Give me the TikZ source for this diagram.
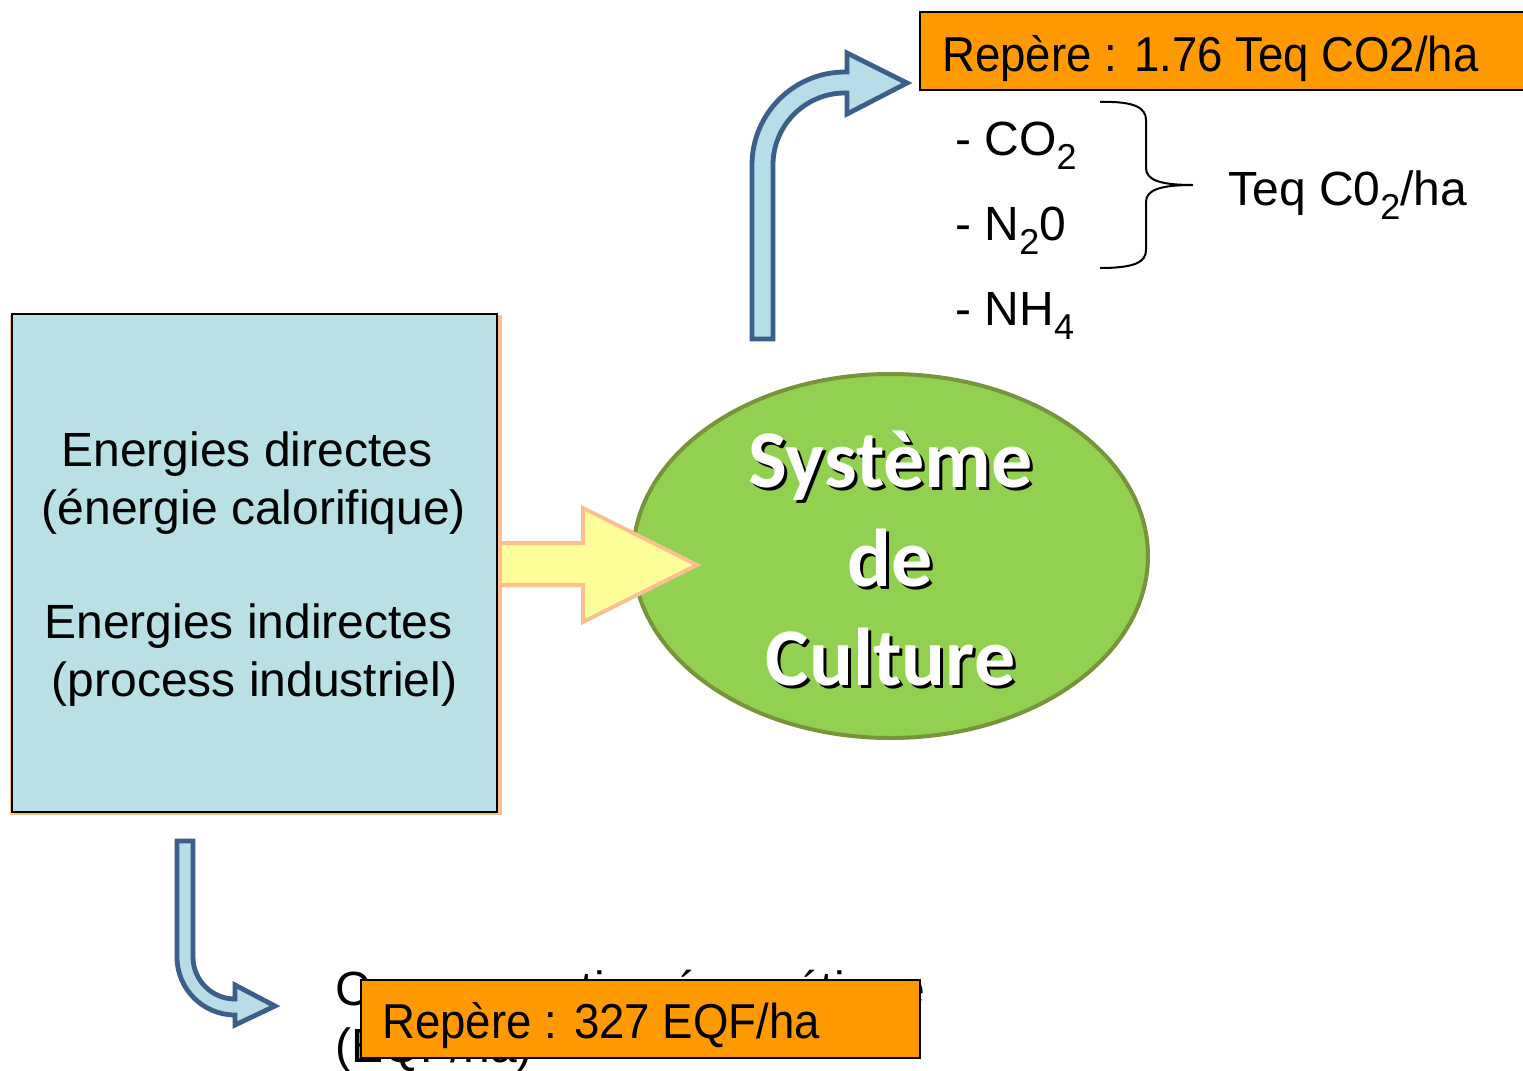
\documentclass[tikz,border=0pt]{standalone}
\usepackage{fontspec}
\setmainfont{Liberation Sans}
\newfontfamily\calib{Carlito}
\usetikzlibrary{shapes.geometric}
\definecolor{boxblue}{HTML}{B9E0E4}
\definecolor{shadoworange}{HTML}{FAC090}
\definecolor{arrowyellow}{HTML}{FFFF99}
\definecolor{sysgreen}{HTML}{92D050}
\definecolor{sysborder}{HTML}{77933C}
\definecolor{arrowblue}{HTML}{3B5F8A}
\definecolor{arrowfill}{HTML}{B7DEE8}
\definecolor{repcolor}{HTML}{FF9900}
\newcommand\subsc[1]{\raisebox{-0.3em}{\fontsize{18}{18}\selectfont #1}}
\tikzset{
  txt/.style={inner sep=0pt, anchor=base, font=\fontsize{24}{28}\selectfont},
  gas/.style={inner sep=0pt, anchor=base west, font=\fontsize{24}{28}\selectfont},
  reptxt/.style={inner sep=0pt, anchor=base west, font=\fontsize{24.5}{28}\selectfont},
  sysfont/.style={inner sep=0pt, anchor=base, font=\calib\bfseries\fontsize{41}{49}\selectfont},
  bentarrow/.style={draw=arrowblue, fill=arrowfill, line width=2.4pt, line join=miter},
  repbox/.style={draw=black, fill=repcolor, line width=0.75pt, inner sep=0pt},
}
\begin{document}
\begin{tikzpicture}[x=0.5pt,y=-0.5pt]
\useasboundingbox (0,0) rectangle (1523,1071);
\clip (0,0) rectangle (1523,1071);
\fill[white] (0,0) rectangle (1523,1071);

% left box with orange shadow
\node (shadow) [fill=shadoworange, inner sep=0pt, minimum width=246pt, minimum height=250pt] at (256,565) {};
\node (box) [draw=black, fill=boxblue, line width=1pt, inner sep=0pt, minimum width=242.5pt, minimum height=249pt] at (254.5,563) {};
\node (l1) [txt] at (247,466) {Energies directes};
\node (l2) [txt] at (254,524) {(énergie calorifique)};
\node (l3) [txt] at (248.5,638) {Energies indirectes};
\node (l4) [txt] at (254.5,696) {(process industriel)};

% ellipse
\node (sys) [ellipse, draw=sysborder, fill=sysgreen, line width=2pt, inner sep=0pt, minimum width=257.5pt, minimum height=182pt] at (890.5,556) {};
\node (s1b) [sysfont, text=black] at (893.5,490) {Système};
\node (s1) [sysfont, text=white] at (890.5,487) {Système};
\node (s2b) [sysfont, text=black] at (893.5,589) {de};
\node (s2) [sysfont, text=white] at (890.5,586) {de};
\node (s3b) [sysfont, text=black] at (893.5,688) {Culture};
\node (s3) [sysfont, text=white] at (890.5,685) {Culture};

% yellow arrow from box to ellipse
\draw[draw=shadoworange, fill=arrowyellow, line width=2pt, line join=miter]
  (500,543) -- (583,543) -- (583,508) -- (697,565) -- (583,622) -- (583,585) -- (500,585) -- cycle;

% bent arrow up
\draw[bentarrow] (752,339) -- (752,165) .. controls (752,113.7) and (793.7,72) .. (845,72)
  -- (847,72) -- (847,53) -- (907,83) -- (847,114) -- (847,93) -- (845,93)
  .. controls (805.3,93) and (773,125.3) .. (773,165) -- (773,339) -- cycle;

% bent arrow down
\draw[bentarrow] (177,841) -- (177,957) .. controls (177,989) and (203,1015) .. (235,1015)
  -- (235,1025) -- (275,1006) -- (235,985) -- (235,999)
  .. controls (211.8,999) and (193,980.2) .. (193,957) -- (193,841) -- cycle;

% gases
\node (g1) [gas] at (955,155) {- CO\subsc{2}};
\node (g2) [gas] at (955,240) {- N\subsc{2}0};
\node (g3) [gas] at (955,325) {- NH\subsc{4}};
\draw[line width=1pt] (1100,102) .. controls (1135,101) and (1146,108) .. (1146,120) -- (1146,168)
  .. controls (1146,180) and (1160,185) .. (1193,185)
  .. controls (1160,185) and (1146,190) .. (1146,202) -- (1146,250)
  .. controls (1146,262) and (1135,268) .. (1100,268);
\node (teq) [gas] at (1228,205) {Teq C0\subsc{2}/ha};

% top reference box
\node (rep1) [repbox, minimum width=305pt, minimum height=39pt] at (1225,51) {};
\node (rep1t) [reptxt] at (942,71) {\scalebox{0.93}[1]{Repère : 1.76 Teq CO2/ha}};

% bottom text and reference box
\node (c1) [gas] at (335,1005) {Consommation énergétique};
\node (c2) [gas] at (335,1062) {(EQF/ha)};
\node (rep2) [repbox, minimum width=279.5pt, minimum height=39pt] at (640.5,1019) {};
\node (rep2t) [reptxt] at (382,1038) {\scalebox{0.93}[1]{Repère : 327 EQF/ha}};
\end{tikzpicture}
\end{document}
